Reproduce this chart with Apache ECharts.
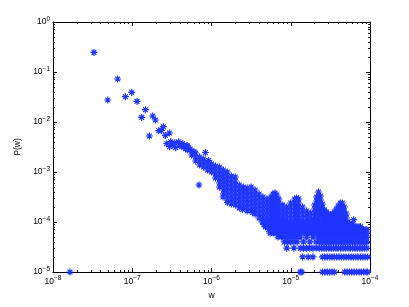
<!DOCTYPE html>
<html><head><meta charset="utf-8">
<script src="https://cdn.jsdelivr.net/npm/echarts@6/dist/echarts.min.js"></script>
<style>html,body{margin:0;padding:0;background:#fff}#c{width:409px;height:307px}</style>
</head><body><div id="c"></div>
<script>
// All values in log10 units: [log10(w), log10(P)]
const isolated = [
  [-7.786,-5.0],[-7.483,-0.608],[-7.184,-1.14],[-7.31,-1.56],[-7.087,-1.494],[-7.007,-1.408],
  [-6.94,-1.588],[-6.834,-1.754],[-6.881,-1.908],[-6.742,-1.88],[-6.708,-1.96],[-6.607,-2.094],
  [-6.666,-2.174],[-6.632,-2.168],[-6.531,-2.22],[-6.582,-2.268],[-6.784,-2.28],
  [-6.565,-2.434],[-6.515,-2.394],[-6.464,-2.414],[-6.414,-2.394],[-6.363,-2.434],[-6.313,-2.474],
  [-6.528,-2.494],[-6.452,-2.514],[-6.376,-2.494],[-6.325,-2.534],
  [-6.49,-2.46],[-6.40,-2.46],[-6.35,-2.50],[-6.27,-2.54],[-6.22,-2.60],
  [-6.077,-2.61],[-6.035,-2.77],[-6.158,-3.26],[-5.855,-3.50],[-5.80,-3.61],[-5.61,-3.75],
  [-5.48,-3.81],[-4.206,-3.954]
];
// dense cloud, column by column: [log10(w), [log10(P) ...]]
const cloudCols = [
  [-6.30,[-2.48,-2.56]],
  [-6.25,[-2.58,-2.66]],
  [-6.20,[-2.62,-2.70,-2.78]],
  [-6.15,[-2.70,-2.78,-2.86]],
  [-6.10,[-2.74,-2.82,-2.90]],
  [-6.05,[-2.80,-2.88,-2.96]],
  [-6.00,[-2.84,-2.92,-3.00]],
  [-5.95,[-2.88,-2.96,-3.04,-3.12]],
  [-5.90,[-2.90,-2.98,-3.06,-3.14,-3.22,-3.30]],
  [-5.85,[-2.96,-3.04,-3.12,-3.20,-3.28,-3.36,-3.44]],
  [-5.80,[-3.00,-3.08,-3.16,-3.24,-3.32,-3.40,-3.48,-3.56]],
  [-5.75,[-3.08,-3.16,-3.24,-3.32,-3.40,-3.48,-3.56,-3.64]],
  [-5.70,[-3.10,-3.18,-3.26,-3.34,-3.42,-3.50,-3.58,-3.66]],
  [-5.65,[-3.26,-3.34,-3.42,-3.50,-3.58,-3.66,-3.72]],
  [-5.60,[-3.30,-3.38,-3.46,-3.54,-3.62,-3.70]],
  [-5.55,[-3.32,-3.40,-3.48,-3.56,-3.64,-3.72,-3.78]],
  [-5.50,[-3.30,-3.38,-3.46,-3.54,-3.62,-3.70,-3.78]],
  [-5.45,[-3.36,-3.44,-3.52,-3.60,-3.68,-3.76,-3.84]],
  [-5.40,[-3.44,-3.52,-3.60,-3.68,-3.76,-3.84,-3.92]],
  [-5.35,[-3.50,-3.58,-3.66,-3.74,-3.82,-3.90,-3.96]],
  [-5.30,[-3.54,-3.62,-3.70,-3.78,-3.86,-3.94]],
  [-5.25,[-3.50,-3.58,-3.66,-3.74,-3.82,-3.90,-3.96]],
  [-5.225,[-3.44,-3.52,-3.60,-3.68,-3.76,-3.84,-3.92]],
  [-5.20,[-3.42,-3.50,-3.58,-3.66,-3.74,-3.82,-3.90,-3.96]],
  [-5.175,[-3.46,-3.54,-3.62,-3.70,-3.78,-3.86,-3.94]],
  [-5.15,[-3.54,-3.62,-3.70,-3.78,-3.86,-3.94]],
  [-5.10,[-3.66,-3.74,-3.82,-3.90,-3.96]],
  [-5.05,[-3.70,-3.78,-3.86,-3.94]],
  [-5.00,[-3.62,-3.70,-3.78,-3.86,-3.94]],
  [-4.95,[-3.54,-3.62,-3.70,-3.78,-3.86,-3.94]],
  [-4.925,[-3.52,-3.60,-3.68,-3.76,-3.84,-3.92]],
  [-4.90,[-3.54,-3.62,-3.70,-3.78,-3.86,-3.94]],
  [-4.85,[-3.70,-3.78,-3.86,-3.94]],
  [-4.80,[-3.78,-3.86,-3.94]],
  [-4.75,[-3.82,-3.90,-3.96]],
  [-4.70,[-3.66,-3.74,-3.82,-3.90,-3.96]],
  [-4.675,[-3.50,-3.58,-3.66,-3.74,-3.82,-3.90]],
  [-4.65,[-3.40,-3.48,-3.56,-3.64,-3.72,-3.80,-3.88,-3.96]],
  [-4.625,[-3.48,-3.56,-3.64,-3.72,-3.80,-3.88]],
  [-4.60,[-3.64,-3.72,-3.80,-3.88,-3.96]],
  [-4.575,[-3.76,-3.84,-3.92]],
  [-4.55,[-3.80,-3.88,-3.96]],
  [-4.525,[-3.84,-3.92]],
  [-4.50,[-3.86,-3.94]],
  [-4.475,[-3.84,-3.92]],
  [-4.45,[-3.80,-3.88,-3.96]],
  [-4.425,[-3.74,-3.82,-3.90]],
  [-4.40,[-3.68,-3.76,-3.84,-3.92]],
  [-4.375,[-3.62,-3.70,-3.78,-3.86,-3.94]],
  [-4.35,[-3.62,-3.70,-3.78,-3.86,-3.94]],
  [-4.325,[-3.70,-3.78,-3.86,-3.94]],
  [-4.30,[-3.84,-3.92]]
];
// discrete low levels P = k * 1e-5 : [k, [log10(w) ...]]
const levelRows = [
  [1,[-4.88,-4.86,-4.60,-4.57,-4.54,-4.51,-4.48,-4.45,-4.32,-4.29,-4.26,-4.23,-4.20,-4.17,-4.14,-4.11,-4.08,-4.05,-4.03]],
  [2,[-4.85,-4.78,-4.72,-4.60,-4.57,-4.54,-4.51,-4.48,-4.45,-4.42,-4.39,-4.36,-4.33,-4.30,-4.27,-4.24,-4.21,-4.18,-4.15,-4.12,-4.09,-4.06,-4.03]],
  [3,[-5.05,-4.96,-4.88,-4.84,-4.80,-4.76,-4.72,-4.68,-4.64,-4.61,-4.58,-4.55,-4.52,-4.49,-4.46,-4.43,-4.40,-4.37,-4.34,-4.31,-4.28,-4.25,-4.22,-4.19,-4.16,-4.13,-4.10,-4.07,-4.04]],
  [4,[-5.08,-5.04,-5.00,-4.96,-4.92,-4.84,-4.76,-4.68,-4.64,-4.60,-4.56,-4.52,-4.48,-4.44,-4.40,-4.36,-4.32,-4.28,-4.24,-4.20,-4.16,-4.12,-4.08,-4.04]],
  [4,[-4.62,-4.58,-4.54,-4.50,-4.46,-4.42,-4.38,-4.34,-4.30,-4.26,-4.22,-4.18,-4.14,-4.10,-4.06]],
  [5,[-5.16,-5.12,-5.08,-5.04,-5.00,-4.96,-4.92,-4.88,-4.80,-4.72,-4.66,-4.62,-4.58,-4.54,-4.50,-4.46,-4.42,-4.38,-4.34,-4.30,-4.26,-4.22,-4.18,-4.14,-4.10,-4.06]],
  [5,[-4.64,-4.60,-4.56,-4.52,-4.48,-4.44,-4.40,-4.36,-4.32,-4.28,-4.24,-4.20,-4.16,-4.12,-4.08,-4.04]],
  [6,[-5.26,-5.22,-5.18,-5.14,-5.10,-5.06,-5.02,-4.98,-4.94,-4.90,-4.86,-4.82,-4.78,-4.74,-4.70,-4.66,-4.62,-4.58,-4.54,-4.50,-4.46,-4.42,-4.38,-4.34,-4.30,-4.26,-4.22,-4.18,-4.14,-4.10,-4.06]],
  [6,[-4.64,-4.60,-4.56,-4.52,-4.48,-4.44,-4.40,-4.36,-4.32,-4.28,-4.24,-4.20,-4.16,-4.12,-4.08,-4.04]],
  [7,[-5.28,-5.24,-5.20,-5.16,-5.12,-5.08,-5.04,-5.00,-4.96,-4.92,-4.88,-4.84,-4.80,-4.76,-4.72,-4.68,-4.64,-4.60,-4.56,-4.52,-4.48,-4.44,-4.40,-4.36,-4.32,-4.28,-4.24,-4.20,-4.16,-4.12,-4.08,-4.04]],
  [7,[-4.62,-4.58,-4.54,-4.50,-4.46,-4.42,-4.38,-4.34,-4.30,-4.26,-4.22,-4.18,-4.14,-4.10,-4.06]],
  [8,[-5.32,-5.28,-5.24,-5.20,-5.16,-5.12,-5.08,-5.04,-5.00,-4.96,-4.92,-4.88,-4.84,-4.80,-4.76,-4.72,-4.68,-4.64,-4.60,-4.56,-4.52,-4.48,-4.44,-4.40,-4.36,-4.32,-4.28,-4.24,-4.20,-4.16,-4.12]],
  [8,[-4.62,-4.58,-4.54,-4.50,-4.46,-4.42,-4.38,-4.34,-4.30,-4.26,-4.22,-4.18,-4.14]],
  [9,[-5.34,-5.30,-5.26,-5.22,-5.18,-5.14,-5.10,-5.06,-5.02,-4.98,-4.94,-4.90,-4.86,-4.82,-4.78,-4.74,-4.70,-4.66,-4.62,-4.58,-4.54,-4.50,-4.46,-4.42,-4.38,-4.34,-4.30,-4.26,-4.22]],
  [9,[-4.64,-4.60,-4.56,-4.52,-4.48,-4.44,-4.40,-4.36,-4.32,-4.28,-4.24]],
  [10,[-5.36,-5.32,-5.28,-5.24,-5.20,-5.16,-5.12,-5.08,-5.04,-5.00,-4.96,-4.92,-4.88,-4.84,-4.80,-4.76,-4.72,-4.68,-4.64,-4.60,-4.56,-4.52,-4.48,-4.44,-4.40,-4.36,-4.32,-4.28]]
];
const levelUnit = 1e-5;
const xRange = [1e-8, 1e-4];
const yRange = [1e-5, 1];
const xDecades = [-8,-7,-6,-5,-4];
const yDecades = [-5,-4,-3,-2,-1,0];
const minorMult = [2,3,4,5,6,7,8,9];

const pts = [];
isolated.forEach(([w,p]) => pts.push([Math.pow(10,w), Math.pow(10,p)]));
cloudCols.forEach(([w,ps]) => ps.forEach(p => pts.push([Math.pow(10,w), Math.pow(10,p)])));
levelRows.forEach(([k,ws]) => ws.forEach(w => pts.push([Math.pow(10,w), k*levelUnit])));

function minors(dec){ const out=[]; dec.slice(0,-1).forEach(e=>minorMult.forEach(m=>out.push(m*Math.pow(10,e)))); return out; }
const xMinor = minors(xDecades), yMinor = minors(yDecades);

const FONT = 'Liberation Sans, Arial, sans-serif';
const rich = {
  b:{fontSize:8.5,fontFamily:FONT,color:'#000'},
  e:{fontSize:6.5,fontFamily:FONT,color:'#000',padding:[0,0,6,0]}
};
function expLabel(v){ const e=Math.round(Math.log10(v)); return '{b|10}{e|'+(e<0?'\u2212'+(-e):String(e))+'}'; }

function axis(pos, range, opts){
  return Object.assign({
    type:'log', logBase:10, min:range[0], max:range[1], position:pos,
    axisLine:{show:false, onZero:false},
    axisTick:{show:false},
    axisLabel:{show:false},
    splitLine:{show:false}, minorTick:{show:false}, minorSplitLine:{show:false}
  }, opts);
}
const lineS = {show:true,onZero:false,lineStyle:{color:'#000',width:1}};
const majT = {show:true,inside:true,length:4,lineStyle:{color:'#000',width:1}};
const minT = (vals)=>({show:true,inside:true,length:2,customValues:vals,lineStyle:{color:'#000',width:1}});

const chart = echarts.init(document.getElementById('c'), null, {renderer:'canvas'});
chart.setOption({
  animation:false,
  backgroundColor:'#fff',
  grid:{left:53,top:22,width:317,height:250},
  xAxis:[
    axis('bottom', xRange, {axisLine:lineS, axisTick:majT,
      axisLabel:{show:true,formatter:expLabel,rich:rich,margin:3,color:'#000'},
      name:'w', nameLocation:'middle', nameGap:18,
      nameTextStyle:{fontSize:8.5,fontFamily:FONT,color:'#000'}}),
    axis('bottom', xRange, {axisTick:minT(xMinor)}),
    axis('top', xRange, {axisLine:lineS, axisTick:majT}),
    axis('top', xRange, {axisTick:minT(xMinor)})
  ],
  yAxis:[
    axis('left', yRange, {axisLine:lineS, axisTick:majT,
      axisLabel:{show:true,formatter:expLabel,rich:rich,margin:3,color:'#000'},
      name:'P(w)', nameLocation:'middle', nameGap:25,
      nameTextStyle:{fontSize:8.5,fontFamily:FONT,color:'#000'}}),
    axis('left', yRange, {axisTick:minT(yMinor)}),
    axis('right', yRange, {axisLine:lineS, axisTick:majT}),
    axis('right', yRange, {axisTick:minT(yMinor)})
  ],
  series:[{
    type:'scatter', xAxisIndex:0, yAxisIndex:0, data:pts,
    symbol:'path://M5,0L5,10M0,5L10,5M1.6,1.6L8.4,8.4M1.6,8.4L8.4,1.6',
    symbolSize:7, symbolKeepAspect:true,
    itemStyle:{color:'rgba(0,0,0,0)', borderColor:'#1f35ff', borderWidth:1.2, opacity:1},
    emphasis:{disabled:true}, silent:true
  }]
});
</script></body></html>
